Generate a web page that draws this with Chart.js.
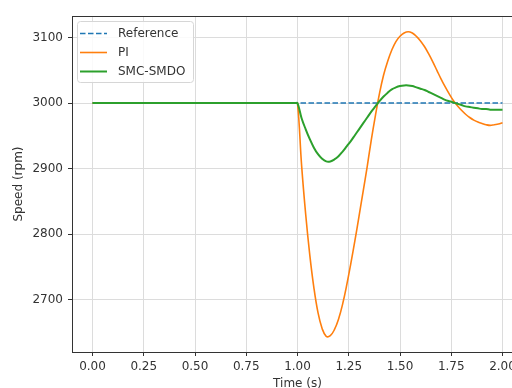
<!DOCTYPE html>
<html>
<head>
<meta charset="utf-8">
<script src="https://cdn.jsdelivr.net/npm/chart.js@4/dist/chart.umd.min.js"></script>
<style>
  html, body { margin: 0; padding: 0; background: #fff; overflow: hidden; }
  #wrap { width: 540px; height: 388px; }
</style>
</head>
<body>
<div id="wrap"><canvas id="speedChart" width="540" height="388"></canvas></div>
<script>
// time axis (s) and speed readings (rpm)
const timeS = [0, 0.99, 1.00, 1.02, 1.04, 1.06, 1.08, 1.10, 1.12, 1.14, 1.16, 1.18,
    1.20, 1.22, 1.24, 1.26, 1.28, 1.30, 1.32, 1.34, 1.36, 1.38,
    1.40, 1.42, 1.44, 1.46, 1.48, 1.50, 1.52, 1.54, 1.56, 1.58,
    1.60, 1.62, 1.64, 1.66, 1.68, 1.70, 1.72, 1.74, 1.76, 1.78,
    1.80, 1.82, 1.84, 1.86, 1.88, 1.90, 1.92, 1.94, 1.96, 1.98, 2.00];
const piSpeed = [3000, 3000, 3000, 2905, 2830, 2768, 2718, 2680, 2656, 2644, 2645, 2654,
    2670, 2693, 2722, 2755, 2790, 2827, 2865, 2903, 2944, 2981,
    3015, 3043, 3064, 3081, 3094, 3102, 3107, 3109, 3107, 3102,
    3095, 3086, 3075, 3063, 3050, 3037, 3025, 3014, 3004, 2996,
    2989, 2983, 2978, 2974, 2971, 2969, 2967, 2966, 2967, 2968, 2970];
const smcSpeed = [3000, 3000, 3000, 2977, 2960, 2945, 2932, 2922, 2915, 2911, 2911, 2914,
    2919, 2926, 2934, 2942, 2951, 2960, 2969, 2978, 2987, 2995,
    3003, 3010, 3016, 3021, 3024, 3026, 3027, 3027, 3026, 3024,
    3022, 3020, 3017, 3014, 3011, 3008, 3005, 3003, 3001, 2999,
    2997, 2995, 2994, 2993, 2992, 2991, 2991, 2990, 2990, 2990, 2990];
const refTime = [0, 2.0];
const refSpeed = [3000, 3000];

const xTicks = [0, 0.25, 0.5, 0.75, 1.0, 1.25, 1.5, 1.75, 2.0];
const yTicks = [2700, 2800, 2900, 3000, 3100];

const toPoints = (xs, ys) => xs.map((x, i) => ({x: x, y: ys[i]}));

const FONT = {family: 'DejaVu Sans', size: 12};

// frame around the plot area + matplotlib-like legend
const framePlugin = {
    id: 'frame',
    afterDatasetsDraw(chart) {
        const {ctx, chartArea: a} = chart;
        ctx.save();
        ctx.strokeStyle = '#333';
        ctx.lineWidth = 1;
        ctx.strokeRect(a.left + 0.5, a.top + 0.5, a.right - a.left, a.bottom - a.top);

        // legend
        const lx = a.left + 5, ly = a.top + 5, lw = 116, lh = 61;
        ctx.fillStyle = 'rgba(255,255,255,0.85)';
        ctx.strokeStyle = '#d6d6d6';
        ctx.beginPath();
        ctx.roundRect(lx + 0.5, ly + 0.5, lw, lh, 3);
        ctx.fill();
        ctx.stroke();
        ctx.font = '12px "DejaVu Sans"';
        ctx.textBaseline = 'middle';
        chart.data.datasets.forEach((ds, i) => {
            const y = ly + 12.5 + i * 19;
            ctx.strokeStyle = ds.borderColor;
            ctx.lineWidth = ds.borderWidth;
            ctx.setLineDash(ds.borderDash || []);
            ctx.beginPath();
            ctx.moveTo(lx + 3, y);
            ctx.lineTo(lx + 30, y);
            ctx.stroke();
            ctx.setLineDash([]);
            ctx.fillStyle = '#333';
            ctx.fillText(ds.label, lx + 41, y);
        });
        ctx.restore();
    }
};

const ctx = document.getElementById('speedChart').getContext('2d');
new Chart(ctx, {
    type: 'line',
    data: {
        datasets: [
            {
                label: 'Reference',
                data: toPoints(refTime, refSpeed),
                borderColor: '#1f77b4',
                borderWidth: 1.5,
                borderDash: [5.5, 2.5],
                pointRadius: 0,
                order: 3
            },
            {
                label: 'PI',
                data: toPoints(timeS, piSpeed),
                borderColor: '#ff7f0e',
                borderWidth: 1.6,
                pointRadius: 0,
                tension: 0.4,
                order: 2
            },
            {
                label: 'SMC-SMDO',
                data: toPoints(timeS, smcSpeed),
                borderColor: '#2ca02c',
                borderWidth: 2,
                pointRadius: 0,
                tension: 0.4,
                order: 1
            }
        ]
    },
    options: {
        responsive: false,
        animation: false,
        devicePixelRatio: 1,
        layout: {padding: {top: 16, right: 17, bottom: 0, left: 0}},
        plugins: {
            legend: {display: false},
            tooltip: {enabled: false}
        },
        scales: {
            x: {
                type: 'linear',
                min: -0.1,
                max: 2.1,
                afterBuildTicks: (scale) => { scale.ticks = xTicks.map(v => ({value: v})); },
                afterFit: (scale) => { scale.height = 36; },
                grid: {color: '#dcdcdc', tickColor: '#333', tickLength: 4},
                border: {color: '#333'},
                ticks: {
                    font: FONT,
                    color: '#333',
                    padding: 4,
                    maxRotation: 0,
                    callback: (v) => v.toFixed(2)
                },
                title: {display: true, text: 'Time (s)', font: FONT, color: '#333', padding: {top: 0, bottom: -3}}
            },
            y: {
                min: 2620,
                max: 3133,
                afterBuildTicks: (scale) => { scale.ticks = yTicks.map(v => ({value: v})); },
                afterFit: (scale) => { scale.width = 72; },
                grid: {color: '#dcdcdc', tickColor: '#333', tickLength: 4},
                border: {color: '#333'},
                ticks: {
                    font: FONT,
                    color: '#333',
                    padding: 5,
                    callback: (v) => String(v)
                },
                title: {display: true, text: 'Speed (rpm)', font: FONT, color: '#333', padding: 12}
            }
        }
    },
    plugins: [framePlugin]
});
</script>
</body>
</html>
